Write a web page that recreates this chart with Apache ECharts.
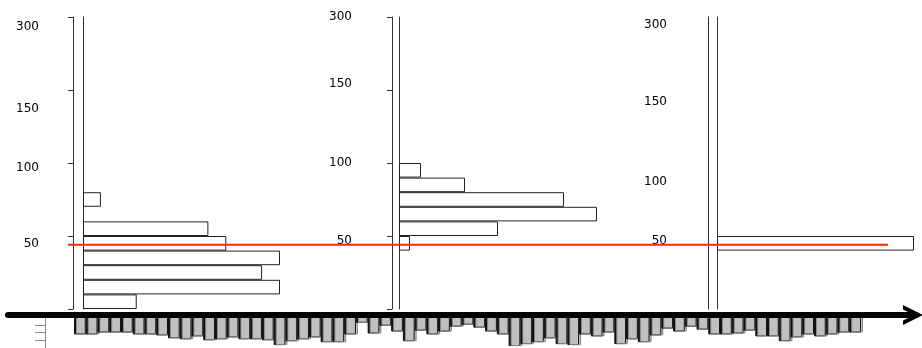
<!DOCTYPE html>
<html>
<head>
<meta charset="utf-8">
<script src="https://cdn.jsdelivr.net/npm/echarts@6/dist/echarts.min.js"></script>
<style>
  html, body { margin: 0; padding: 0; background: #fff; }
  #chart { width: 922px; height: 348px; }
</style>
</head>
<body>
<div id="chart"></div>
<script>
// 20 bins of 10 on the vertical axis, index 0 at the bottom
const bins = Array.from({ length: 20 }, (_, i) => `${i * 10}-${i * 10 + 10}`)

const panel1Counts = [3, 11, 10, 11, 8, 7, null, 1, null, null, null, null, null, null, null, null, null, null, null, null]
const panel2Counts = [null, null, null, null, 1, 9, 18, 15, 6, 2, null, null, null, null, null, null, null, null, null, null]
const panel3Counts = [null, null, null, null, 12, null, null, null, null, null, null, null, null, null, null, null, null, null, null, null]

// hand written level labels and where they sit on each panel's 0-200 scale
const levelLabels = ['300', '150', '100', '50']
const panel1LabelAt = [193, 137, 97, 44.5]
const panel2LabelAt = [200, 154, 100, 47]
const panel3LabelAt = [194.5, 142, 87, 47]

// red reference level across all panels
const thresholdLevel = 44

// strip of bars hanging under the time arrow (depths)
const stripValues = [
  -18, -18, -16, -16, -16, -18, -18, -19, -22, -23,
  -20, -24, -23, -21, -23, -23, -24, -29, -25, -23,
  -21, -26, -26, -18, -6, -17, -9, -15, -25, -14,
  -18, -15, -10, -8, -11, -15, -18, -30, -28, -26,
  -22, -28, -29, -18, -20, -16, -28, -23, -26, -19,
  -12, -15, -10, -13, -18, -18, -17, -14, -20, -20,
  -25, -21, -18, -20, -18, -16, -16
]
const stripSlots = stripValues.map((_, i) => String(i + 1))

const chart = echarts.init(document.getElementById('chart'))

const TOP = 17
const HEIGHT = 292
const LINE = '#333'

const panels = [
  { left: 83, width: 197, gap: 10, counts: panel1Counts, labelAt: panel1LabelAt, ticks: true, margin: 44 },
  { left: 399, width: 198, gap: 7, counts: panel2Counts, labelAt: panel2LabelAt, ticks: true, margin: 47 },
  { left: 717, width: 197, gap: 9, counts: panel3Counts, labelAt: panel3LabelAt, ticks: false, margin: 50 }
]

const grid = []
const xAxis = []
const yAxis = []
const series = []

panels.forEach((p, i) => {
  grid.push({ left: p.left, top: TOP, width: p.width, height: HEIGHT })
  xAxis.push({
    type: 'value', gridIndex: i, min: 0, max: 'dataMax',
    show: false
  })
  // outer line with ticks
  yAxis.push({
    type: 'category', gridIndex: i, data: bins, position: 'left', offset: p.gap,
    axisLine: { show: true, onZero: false, lineStyle: { color: LINE, width: 1 } },
    axisTick: { show: p.ticks, interval: 4, length: 5, lineStyle: { color: LINE } },
    axisLabel: { show: false },
    splitLine: { show: false }
  })
  // inner line carrying the level labels
  const labelAt = p.labelAt
  yAxis.push({
    type: 'value', gridIndex: i, min: 0, max: 200, position: 'left',
    axisLine: { show: true, onZero: false, lineStyle: { color: LINE, width: 1 } },
    axisTick: { show: false },
    splitLine: { show: false },
    axisLabel: {
      customValues: labelAt,
      margin: p.margin,
      color: '#000',
      fontFamily: 'DejaVu Sans',
      fontSize: 12,
      formatter: (v) => {
        const k = labelAt.indexOf(v)
        return k >= 0 ? levelLabels[k] : ''
      }
    }
  })
  series.push({
    type: 'bar',
    xAxisIndex: i,
    yAxisIndex: i * 2,
    data: p.counts,
    barCategoryGap: '0%',
    itemStyle: { color: '#fff', borderColor: '#222', borderWidth: 1 },
    z: 2
  })
})

// overlay for the red level line
grid.push({ left: 68, top: TOP, width: 820, height: HEIGHT })
xAxis.push({ type: 'value', gridIndex: 3, min: 0, max: 1, show: false })
yAxis.push({ type: 'value', gridIndex: 3, min: 0, max: 200, show: false })
series.push({
  type: 'line',
  xAxisIndex: 3,
  yAxisIndex: 6,
  data: [[0, thresholdLevel], [1, thresholdLevel]],
  symbol: 'none',
  lineStyle: { color: '#ff2a00', width: 2 },
  z: 5
})

// grey strip under the arrow
grid.push({ left: 76, top: 317, width: 787, height: 32 })
xAxis.push({
  type: 'category', gridIndex: 4, data: stripSlots, position: 'top',
  axisLine: { show: false }, axisTick: { show: false }, axisLabel: { show: false }
})
yAxis.push({
  type: 'value', gridIndex: 4, min: -32, max: 0, interval: 8, position: 'left', offset: 31,
  axisLine: { show: true, onZero: false, lineStyle: { color: '#888', width: 1 } },
  axisTick: { show: true, length: 10, lineStyle: { color: '#888' } },
  axisLabel: { show: false },
  splitLine: { show: false }
})
series.push({
  type: 'bar',
  xAxisIndex: 4,
  yAxisIndex: 7,
  data: stripValues,
  barCategoryGap: '0%',
  itemStyle: {
    color: '#c0c0c0',
    borderColor: '#8a8a8a',
    borderWidth: 1,
    shadowColor: '#111',
    shadowOffsetX: -2,
    shadowBlur: 0
  }
})

// thick time arrow
grid.push({ left: 8, top: 300, width: 908, height: 15 })
xAxis.push({
  type: 'value', gridIndex: 5, min: 0, max: 1, position: 'bottom',
  axisLine: {
    show: true,
    onZero: false,
    symbol: ['none', 'path://M0,20 L10,0 L20,20 L15.5,20 L10,9 L4.5,20 Z'],
    symbolSize: [28, 20],
    symbolOffset: [0, -3],
    lineStyle: { color: '#000', width: 6 }
  },
  axisTick: { show: false },
  axisLabel: { show: false },
  splitLine: { show: false },
  z: 10
})
yAxis.push({ type: 'value', gridIndex: 5, show: false })

chart.setOption({
  animation: false,
  backgroundColor: '#fff',
  grid,
  xAxis,
  yAxis,
  series
})
</script>
</body>
</html>
